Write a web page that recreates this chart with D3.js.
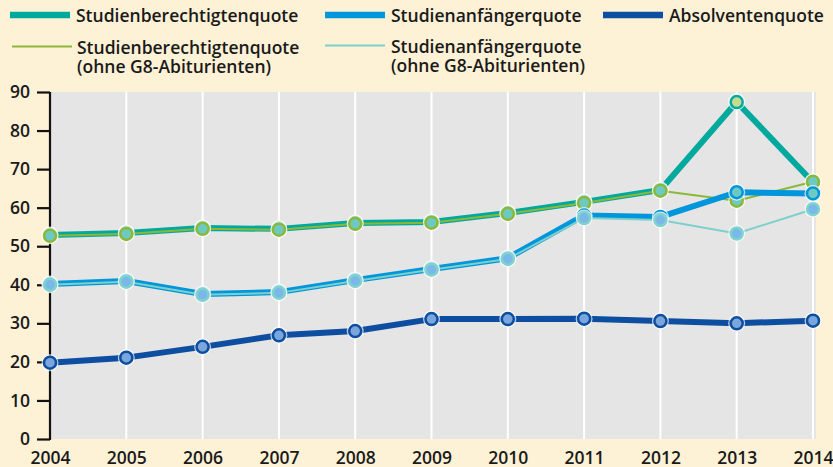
<!DOCTYPE html>
<html>
<head>
<meta charset="utf-8">
<script src="https://cdn.jsdelivr.net/npm/d3@7"></script>
<style>
    body { margin: 0; background: #fdf1d6; }
    svg { display: block; font-family: 'Open Sans', sans-serif; }
</style>
</head>
<body>
<div id="chart"></div>
<script>
'use strict';

// Werte (in %)
var years = [2004, 2005, 2006, 2007, 2008, 2009, 2010, 2011, 2012, 2013, 2014];
var yTicks = [0, 10, 20, 30, 40, 50, 60, 70, 80, 90];

var berechtigt      = [52.9, 53.4, 54.7, 54.5, 56.0, 56.3, 58.6, 61.5, 64.6, 87.4, 66.6];
var berechtigtOhne  = [52.7, 53.2, 54.5, 54.3, 55.8, 56.1, 58.4, 61.2, 64.4, 61.8, 66.7];
var anfaenger       = [40.2, 41.0, 37.6, 38.1, 41.2, 44.1, 46.9, 58.0, 57.6, 64.0, 63.7];
var anfaengerOhne   = [40.0, 40.8, 37.4, 37.9, 41.0, 43.9, 46.7, 57.3, 56.8, 53.3, 59.6];
var absolventen     = [19.8, 21.1, 23.9, 26.9, 28.0, 31.1, 31.1, 31.2, 30.6, 30.0, 30.7];

var width = 833,
    height = 467,
    plot = {left: 50, right: 816, top: 92, bottom: 439};

var series = [
    {values: berechtigt,     color: '#00a99d', width: 6, stroke: '#00a99d', fill: '#c4dc8f'},
    {values: berechtigtOhne, color: '#8cb83a', width: 2, stroke: '#8cb83a', fill: '#6ccac3'},
    {values: anfaenger,      color: '#0096db', width: 6, stroke: '#0096db', fill: '#6ccac3'},
    {values: anfaengerOhne,  color: '#7dd0cb', width: 2, stroke: '#80d2cc', fill: '#79b8e8'},
    {values: absolventen,    color: '#0d4ea1', width: 6, stroke: '#0d4ea1', fill: '#7aa6dc'}
];

var x = d3.scaleLinear().domain([2004, 2014]).range([50, 813]);
var y = d3.scaleLinear().domain([0, 90]).range([plot.bottom, plot.top]);

var svg = d3.select('#chart').append('svg')
            .attr('width', width)
            .attr('height', height);

svg.append('rect')
   .attr('width', width)
   .attr('height', height)
   .attr('fill', '#fdf1d6');

svg.append('rect')
   .attr('x', plot.left)
   .attr('y', plot.top)
   .attr('width', plot.right - plot.left)
   .attr('height', plot.bottom - plot.top)
   .attr('fill', '#e5e5e5');

// vertikale Gitterlinien
svg.append('g')
   .selectAll('line')
   .data(years.slice(1))
   .enter()
   .append('line')
   .attr('x1', function (d) { return x(d); })
   .attr('x2', function (d) { return x(d); })
   .attr('y1', plot.top)
   .attr('y2', plot.bottom)
   .attr('stroke', '#ffffff')
   .attr('stroke-width', 2);

// y-Achse
var yAxis = svg.append('g')
               .attr('transform', 'translate(' + plot.left + ',0)')
               .call(d3.axisLeft(y).tickValues(yTicks).tickSize(13).tickPadding(7));

yAxis.select('.domain').attr('stroke', '#111').attr('stroke-width', 2.2)
     .attr('d', 'M0,' + plot.top + 'V' + (plot.bottom + 1));
yAxis.selectAll('.tick line').attr('stroke', '#111').attr('stroke-width', 2.2);
yAxis.selectAll('.tick text')
     .attr('fill', '#1a1a1a')
     .style('font-size', '17.5px')
     .style('font-weight', 600)
     .style('font-family', "'Open Sans', sans-serif");

// x-Achse (nur Beschriftung)
var xAxis = svg.append('g')
               .attr('transform', 'translate(0,' + plot.bottom + ')')
               .call(d3.axisBottom(x).tickValues(years).tickFormat(d3.format('d')).tickSize(0).tickPadding(13));

xAxis.select('.domain').remove();
xAxis.selectAll('.tick text')
     .attr('fill', '#1a1a1a')
     .style('font-size', '17.5px')
     .style('font-weight', 600)
     .style('font-family', "'Open Sans', sans-serif");

// Linien und Punkte
var line = d3.line()
             .x(function (d, i) { return x(years[i]); })
             .y(function (d) { return y(d); });

series.forEach(function (s) {
    var g = svg.append('g');

    g.append('path')
     .attr('d', line(s.values))
     .attr('fill', 'none')
     .attr('stroke', s.color)
     .attr('stroke-width', s.width)
     .attr('stroke-linejoin', 'round');

    var dots = g.selectAll('g.dot')
                .data(s.values)
                .enter()
                .append('g')
                .attr('class', 'dot')
                .attr('transform', function (d, i) { return 'translate(' + x(years[i]) + ',' + y(d) + ')'; });

    dots.append('circle')
        .attr('r', 8.5)
        .attr('fill', '#ffffff')
        .attr('fill-opacity', 0.7);

    dots.append('circle')
        .attr('r', 6)
        .attr('fill', s.fill)
        .attr('stroke', s.stroke)
        .attr('stroke-width', 2.5);
});

// Legende
var legend = [
    {x: 10, y: 15, label: ['Studienberechtigtenquote'], s: series[0]},
    {x: 325, y: 15, label: ['Studienanfängerquote'], s: series[2]},
    {x: 603, y: 15, label: ['Absolventenquote'], s: series[4]},
    {x: 12, y: 46.5, label: ['Studienberechtigtenquote', '(ohne G8-Abiturienten)'], s: series[1]},
    {x: 325, y: 45.5, label: ['Studienanfängerquote', '(ohne G8-Abiturienten)'], s: series[3]}
];

var items = svg.append('g')
               .selectAll('g')
               .data(legend)
               .enter()
               .append('g')
               .attr('transform', function (d) { return 'translate(' + d.x + ',' + d.y + ')'; });

items.append('line')
     .attr('x1', 0)
     .attr('x2', 60)
     .attr('stroke', function (d) { return d.s.color; })
     .attr('stroke-width', function (d) { return d.s.width === 6 ? 6.5 : 2; });

items.each(function (d) {
    var item = d3.select(this),
        textX = 66 + (10 - d.x > 0 ? 0 : 0) + (d.x === 12 ? -1 : 0);

    d.label.forEach(function (l, i) {
        item.append('text')
            .attr('x', textX)
            .attr('y', 7 + i * 19.5)
            .attr('fill', '#1a1a1a')
            .style('font-size', '17.5px')
            .style('font-weight', 600)
            .text(l);
    });
});
</script>
</body>
</html>
